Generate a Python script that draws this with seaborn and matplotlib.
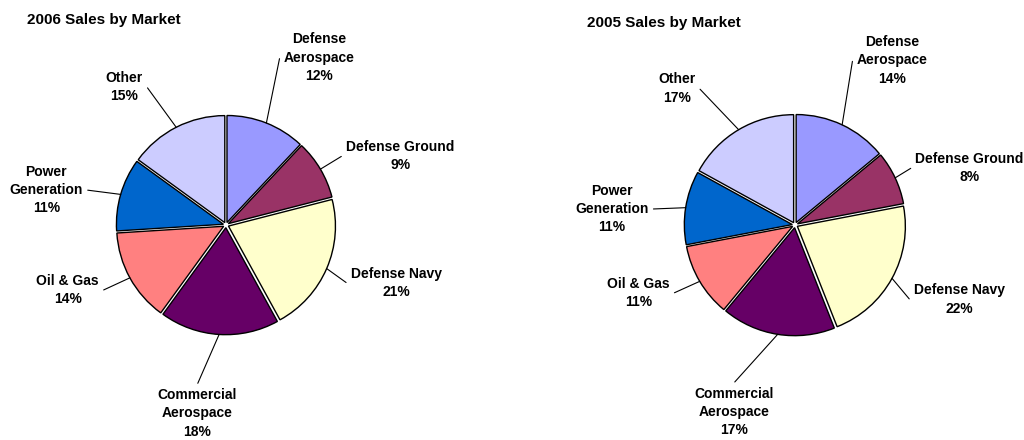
import numpy as np
import matplotlib
matplotlib.use("Agg")
import matplotlib.pyplot as plt
import seaborn as sns

# data
markets = ["Defense\nAerospace", "Defense Ground", "Defense Navy", "Commercial\nAerospace",
           "Oil & Gas", "Power\nGeneration", "Other"]
sales_2006 = [12, 9, 21, 18, 14, 11, 15]
sales_2005 = [14, 8, 22, 17, 11, 11, 17]
titles = ["2006 Sales by Market", "2005 Sales by Market"]

colors = ["#9999FF", "#993366", "#FFFFCC", "#660066", "#FF8080", "#0066CC", "#CCCCFF"]

# label layout: angle shift from wedge middle (deg), distance in radii
shift_2006 = [-7.5, -9, 4.6, -5, -6.4, 5.2, 9.4]
dist_2006 = [1.79, 1.75, 1.68, 1.78, 1.6, 1.71, 1.6]
shift_2005 = [-5.3, -7.1, 4.4, -9, -7.1, 4, 10.3]
dist_2005 = [1.77, 1.70, 1.67, 1.82, 1.58, 1.70, 1.67]

sns.set_theme(style="white")
plt.rcParams["font.family"] = ["Liberation Sans", "DejaVu Sans"]
plt.rcParams["text.color"] = "black"

fig = plt.figure(figsize=(10.24, 4.4), dpi=100)
W, H = 1024, 440
explode = 0.025

# pixel centres / radius of each pie
setups = [
    dict(box=[0, 0, 0.5, 1], cx=226, cy=225, r=107, x0=0, vals=sales_2006,
         shift=shift_2006, dist=dist_2006, title=titles[0], tx=27, ty=20),
    dict(box=[0.5, 0, 0.5, 1], cx=795, cy=225, r=108, x0=512, vals=sales_2005,
         shift=shift_2005, dist=dist_2005, title=titles[1], tx=587, ty=23),
]

for s in setups:
    ax = fig.add_axes(s["box"])
    vals = s["vals"]
    wedges, _ = ax.pie(vals, colors=sns.color_palette(colors), startangle=90,
                       counterclock=False, explode=[explode] * len(vals),
                       wedgeprops=dict(edgecolor="black", linewidth=1.0))
    r = s["r"]
    cx_ax = s["cx"] - s["x0"]
    ax.set_xlim(-cx_ax / r, (512 - cx_ax) / r)
    ax.set_ylim(-(H - s["cy"]) / r, s["cy"] / r)
    ax.set_aspect("auto")
    ax.axis("off")

    total = sum(vals)
    for i, w in enumerate(wedges):
        mid = (w.theta1 + w.theta2) / 2
        a = np.deg2rad(mid)
        ex, ey = (1 + explode) * np.cos(a), (1 + explode) * np.sin(a)
        la = np.deg2rad(mid + s["shift"][i])
        lx, ly = s["dist"][i] * np.cos(la), s["dist"][i] * np.sin(la)
        ang = (mid + s["shift"][i] + 180) % 360 - 180
        if -140 < ang < -40:
            relpos, angA = (0.5, 1.0), 90
        elif lx > 0:
            relpos, angA = (0.0, 0.5), 180
        else:
            relpos, angA = (1.0, 0.5), 0
        pct = round(100 * vals[i] / total)
        ax.annotate(f"{markets[i]}\n{pct}%", xy=(ex, ey), xytext=(lx, ly),
                    ha="center", va="center", multialignment="center",
                    fontsize=10, fontweight="bold", linespacing=1.4, color="black",
                    arrowprops=dict(arrowstyle="-", color="black", lw=0.8,
                                    relpos=relpos, shrinkA=1, shrinkB=0,
                                    connectionstyle=f"arc,angleA={angA},angleB=0,armA=4,armB=0,rad=0"))

    fig.text(s["tx"] / W, 1 - s["ty"] / H, s["title"], ha="left", va="center",
             fontsize=11, fontweight="bold", color="black")

fig.savefig("out.png", dpi=100)
